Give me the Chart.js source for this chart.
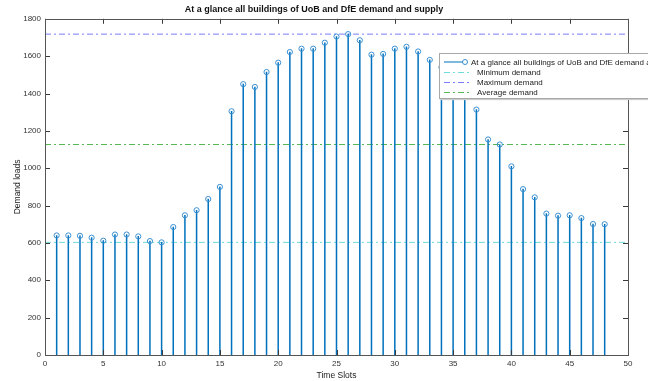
<!DOCTYPE html>
<html>
<head>
<meta charset="utf-8">
<script src="https://cdn.jsdelivr.net/npm/chart.js@4.4.1/dist/chart.umd.min.js"></script>
<style>
  html, body { margin: 0; padding: 0; background: #fff; overflow: hidden; }
  #wrap { position: relative; width: 648px; height: 381px; }
  #legend {
    position: absolute; left: 439px; top: 53px; width: 280px; height: 44px;
    background: #fff; border: 1px solid #a8a8a8; box-shadow: 1px 1px 1px #ccc;
    font: 8px "Liberation Sans", Arial, sans-serif; color: #222;
  }
  #legend .row { position: absolute; left: 0; height: 10px; white-space: nowrap; }
  #legend svg { position: absolute; left: 3px; top: 0; }
  #legend span { position: absolute; top: 1px; }
</style>
</head>
<body>
<div id="wrap">
  <canvas id="c" width="648" height="381"></canvas>
  <div id="legend"></div>
</div>
<script>
// stem plot of demand per time slot
const slots = [1,2,3,4,5,6,7,8,9,10,11,12,13,14,15,16,17,18,19,20,21,22,23,24,
               25,26,27,28,29,30,31,32,33,34,35,36,37,38,39,40,41,42,43,44,45,46,47,48];
const demand = [640,640,638,628,612,645,645,635,610,603,685,748,775,835,900,1305,
                1450,1435,1515,1565,1622,1640,1640,1672,1705,1718,1685,1608,1612,1640,1650,1625,
                1580,1540,1470,1400,1314,1154,1127,1010,888,844,757,746,748,733,701,700];
const minDemand = 603;
const maxDemand = 1718;
const avgDemand = 1127;

const seriesName = 'At a glance all buildings of UoB and DfE demand and supply';
const STEM = '#0072BD';
const COL_MIN = '#6fdcdc';
const COL_MAX = '#7b7bff';
const COL_AVG = '#55b855';

const pts = slots.map((x, i) => ({ x: x, y: demand[i] }));
const hline = v => [{ x: 0, y: v }, { x: 50, y: v }];

const FONT = "'Liberation Sans', Arial, sans-serif";

// MATLAB-like box with inward ticks
const boxTicks = {
    id: 'boxTicks',
    afterDraw(chart) {
        const { ctx, chartArea: a, scales: { x, y } } = chart;
        ctx.save();
        ctx.strokeStyle = '#3a3a3a';
        ctx.lineWidth = 1;
        ctx.beginPath();
        x.ticks.forEach(t => {
            const px = Math.round(x.getPixelForValue(t.value)) + 0.5;
            ctx.moveTo(px, a.bottom); ctx.lineTo(px, a.bottom - 5);
            ctx.moveTo(px, a.top); ctx.lineTo(px, a.top + 5);
        });
        y.ticks.forEach(t => {
            const py = Math.round(y.getPixelForValue(t.value)) + 0.5;
            ctx.moveTo(a.left, py); ctx.lineTo(a.left + 5, py);
            ctx.moveTo(a.right, py); ctx.lineTo(a.right - 5, py);
        });
        ctx.stroke();
        ctx.strokeStyle = '#555';
        ctx.strokeRect(Math.round(a.left) + 0.5, Math.round(a.top) + 0.5,
                       Math.round(a.right - a.left), Math.round(a.bottom - a.top));
        ctx.restore();
    }
};

const chart = new Chart(document.getElementById('c'), {
    data: {
        datasets: [
            { type: 'line', label: 'Minimum demand', data: hline(minDemand), borderColor: COL_MIN,
              borderWidth: 1, borderDash: [6, 3, 2, 3], pointRadius: 0, order: 3 },
            { type: 'line', label: 'Maximum demand', data: hline(maxDemand), borderColor: COL_MAX,
              borderWidth: 1, borderDash: [6, 3, 2, 3], pointRadius: 0, order: 3 },
            { type: 'line', label: 'Average demand', data: hline(avgDemand), borderColor: COL_AVG,
              borderWidth: 1, borderDash: [6, 3, 2, 3], pointRadius: 0, order: 3 },
            { type: 'bar', label: seriesName, data: pts, backgroundColor: STEM,
              barThickness: 0.85, order: 2 },
            { type: 'scatter', label: 'markers', data: pts, borderColor: '#3a8fd2',
              backgroundColor: 'rgba(0,0,0,0)', pointRadius: 2.6, pointBorderWidth: 1, order: 1 }
        ]
    },
    options: {
        responsive: false,
        animation: false,
        layout: { padding: { left: 0, right: 20, top: 0, bottom: 0 } },
        plugins: {
            legend: { display: false },
            tooltip: { enabled: false },
            title: {
                display: true, text: seriesName, color: '#111',
                font: { family: FONT, size: 9, weight: 'bold' },
                padding: { top: 4, bottom: 4 }
            }
        },
        scales: {
            x: {
                type: 'linear', min: 0, max: 50, offset: false,
                ticks: { stepSize: 5, color: '#333', font: { family: FONT, size: 8 }, padding: 4, maxRotation: 0,
                         callback: v => String(v) },
                grid: { display: false, drawTicks: false, offset: false },
                border: { display: false },
                title: { display: true, text: 'Time Slots', color: '#222', font: { family: FONT, size: 8.5 }, padding: { top: 0, bottom: 0 } },
                afterFit(s) { s.height = 26; }
            },
            y: {
                min: 0, max: 1800,
                ticks: { stepSize: 200, color: '#333', font: { family: FONT, size: 8 }, padding: 4,
                         callback: v => String(v) },
                grid: { display: false, drawTicks: false },
                border: { display: false },
                title: { display: true, text: 'Demand loads', color: '#222', font: { family: FONT, size: 8.5 }, padding: { top: 13, bottom: 0 } },
                afterFit(s) { s.width = 45; }
            }
        }
    },
    plugins: [boxTicks]
});

// legend box drawn inside the axes, clipped by the window edge
(function buildLegend() {
    const el = document.getElementById('legend');
    const items = [
        { ds: chart.data.datasets[3], marker: true, textX: 31 },
        { ds: chart.data.datasets[0], textX: 37 },
        { ds: chart.data.datasets[1], textX: 37 },
        { ds: chart.data.datasets[2], textX: 37 }
    ];
    items.forEach((it, i) => {
        const row = document.createElement('div');
        row.className = 'row';
        row.style.top = (3 + i * 10) + 'px';
        row.style.width = '100%';
        const col = it.marker ? STEM : it.ds.borderColor;
        let svg = '<svg width="30" height="10">';
        if (it.marker) {
            svg += '<line x1="1" y1="5" x2="20" y2="5" stroke="' + col + '" stroke-width="1"/>' +
                   '<circle cx="22" cy="5" r="2.5" fill="none" stroke="#3a8fd2" stroke-width="1"/>';
        } else {
            svg += '<line x1="1" y1="5.5" x2="26" y2="5.5" stroke="' + col + '" stroke-width="1" stroke-dasharray="6 3 2 3"/>';
        }
        svg += '</svg>';
        row.innerHTML = svg + '<span style="left:' + it.textX + 'px">' + it.ds.label + '</span>';
        el.appendChild(row);
    });
})();
</script>
</body>
</html>
